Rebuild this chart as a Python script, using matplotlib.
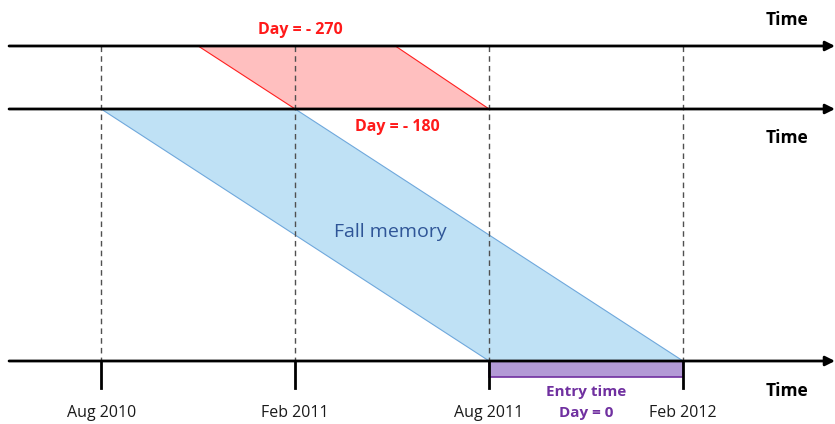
import matplotlib
matplotlib.use("Agg")
import matplotlib.pyplot as plt
from matplotlib.patches import Polygon, Rectangle

plt.rcParams['font.family'] = ['Open Sans', 'DejaVu Sans']

# Data (x in months since Aug 2010, y in timeline levels)
date_months = [0, 6, 12, 18]
date_labels = ["Aug 2010", "Feb 2011", "Aug 2011", "Feb 2012"]
timeline_levels = [0, 1, 5]          # Day -270, Day -180, Day 0
red_top = [3.0, 9.1]                  # window on the top line
red_bottom = [6.0, 12.0]              # window on the middle line
blue_top = [0.0, 6.0]
blue_bottom = [12.0, 18.0]
entry_window = [12.0, 18.0]

fig = plt.figure(figsize=(8.35, 4.24), dpi=100)
ax = fig.add_axes([0, 0, 1, 1])
ax.set_xlim(-3.13, 22.7)
ax.set_ylim(6.0, -0.73)
ax.axis('off')

l0, l1, l2 = timeline_levels

# dashed verticals
for m in date_months:
    ax.plot([m, m], [l0, l2], ls=(0, (4, 3)), color='#505050', lw=1.0, zorder=3)

# red parallelogram
ax.add_patch(Polygon([(red_top[0], l0), (red_top[1], l0), (red_bottom[1], l1), (red_bottom[0], l1)],
                     closed=True, facecolor='#ffbfbf', edgecolor='#ff2020', lw=0.8, zorder=1))
# blue parallelogram
ax.add_patch(Polygon([(blue_top[0], l1), (blue_top[1], l1), (blue_bottom[1], l2), (blue_bottom[0], l2)],
                     closed=True, facecolor='#bfe1f5', edgecolor='#6fa8dc', lw=0.8, zorder=1))
# entry time rectangle
ax.add_patch(Rectangle((entry_window[0], l2), entry_window[1] - entry_window[0], 0.25,
                       facecolor='#b39ad6', edgecolor='#7030a0', lw=1.2, zorder=2))

# timeline arrows
for lv in timeline_levels:
    ax.annotate('', xy=(22.7, lv), xytext=(-2.85, lv),
                arrowprops=dict(arrowstyle='-|>', lw=2.0, color='black',
                                mutation_scale=14, shrinkA=0, shrinkB=0),
                zorder=4)

# ticks on bottom line
for m in date_months:
    ax.plot([m, m], [l2, l2 + 0.43], color='black', lw=2.0, zorder=4)

# date labels
for m, lab in zip(date_months, date_labels):
    ax.text(m, l2 + 0.82, lab, ha='center', va='center', fontsize=11.5, color='#1a1a1a')

# Time labels
ax.text(21.2, l0 - 0.42, "Time", ha='center', va='center', fontsize=12.5, fontweight='bold')
ax.text(21.2, l1 + 0.46, "Time", ha='center', va='center', fontsize=12.5, fontweight='bold')
ax.text(21.2, l2 + 0.48, "Time", ha='center', va='center', fontsize=12.5, fontweight='bold')

# annotations
ax.text(6.15, l0 - 0.25, "Day = - 270", ha='center', va='center', fontsize=11.5,
        fontweight='bold', color='#ff1a1a')
ax.text(9.15, l1 + 0.29, "Day = - 180", ha='center', va='center', fontsize=11.5,
        fontweight='bold', color='#ff1a1a')
ax.text(8.95, 2.95, "Fall memory", ha='center', va='center', fontsize=14,
        color='#2f5597')
ax.text(15.0, l2 + 0.5, "Entry time", ha='center', va='center', fontsize=11,
        fontweight='bold', color='#7030a0')
ax.text(15.0, l2 + 0.82, "Day = 0", ha='center', va='center', fontsize=11,
        fontweight='bold', color='#7030a0')

fig.savefig("out.png", dpi=100)
